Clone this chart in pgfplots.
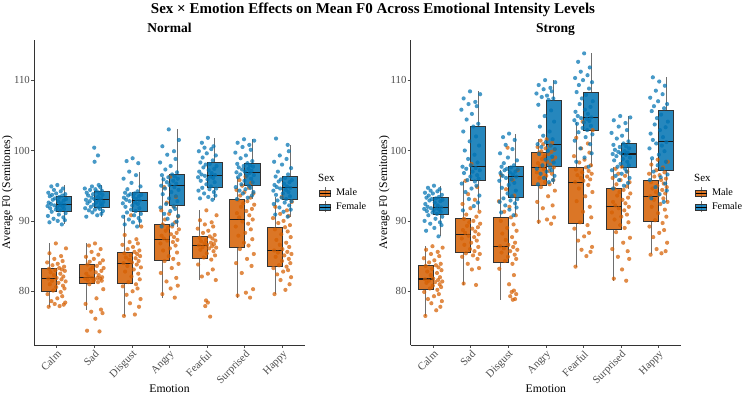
\documentclass[border=0pt]{standalone}
\usepackage{fontspec}
\setmainfont{Liberation Serif}
\usepackage{pgfplots}
\pgfplotsset{compat=1.18}
\usepgfplotslibrary{statistics}

\definecolor{maleC}{HTML}{D55E00}
\definecolor{femaleC}{HTML}{0072B2}
\definecolor{boxline}{HTML}{333333}
\definecolor{whisk}{HTML}{6E6E6E}
\definecolor{ticktext}{HTML}{4D4D4D}

\pgfplotsset{
  panel/.style={
    scale only axis, width=271pt, height=305pt,
    xmin=0.4, xmax=7.6, ymin=72.37, ymax=115.70,
    axis x line*=bottom, axis y line*=left,
    axis line style={draw=black!80, line width=0.6pt},
    tick align=outside, major tick length=3pt,
    tick style={draw=black!70, line width=0.6pt},
    xtick={1,...,7},
    xticklabels={Calm,Sad,Disgust,Angry,Fearful,Surprised,Happy},
    ytick={80,90,100,110},
    ticklabel style={font=\fontsize{10.8}{12}\selectfont, text=ticktext},
    xticklabel style={rotate=45, anchor=north east, inner sep=1pt},
    yticklabel style={inner sep=1pt},
    /pgf/number format/assume math mode=true,
    xlabel={Emotion}, ylabel={Average F0 (Semitones)},
    label style={font=\fontsize{11.7}{14}\selectfont},
    xlabel style={at={(axis description cs:0.5,-0.144)}, anchor=center},
    ylabel style={at={(axis description cs:-0.098,0.5)}, anchor=center},
    legend style={at={(axis description cs:1.052,0.518)}, anchor=north west,
      draw=none, fill=none, inner sep=0pt, row sep=2.5pt,
      font=\fontsize{10.2}{12}\selectfont,
      nodes={inner sep=1pt, text height=7pt, text depth=2pt},
      /tikz/every odd column/.append style={column sep=4pt}},
    legend cell align=left,
  },
  mbox/.style={forget plot,
    boxplot/draw direction=y,
    boxplot/box extend=0.4, boxplot/whisker extend=0,
    boxplot/every box/.style={draw=boxline, fill=maleC, fill opacity=0.85, line width=0.6pt},
    boxplot/every whisker/.style={draw=whisk, line width=0.7pt},
    boxplot/every median/.style={draw=black!90, line width=1.1pt}},
  fbox/.style={forget plot,
    boxplot/draw direction=y,
    boxplot/box extend=0.4, boxplot/whisker extend=0,
    boxplot/every box/.style={draw=boxline, fill=femaleC, fill opacity=0.85, line width=0.6pt},
    boxplot/every whisker/.style={draw=whisk, line width=0.7pt},
    boxplot/every median/.style={draw=black!90, line width=1.1pt}},
  mpt/.style={forget plot, only marks, mark=*, mark size=2.1pt,
    mark options={fill=maleC, fill opacity=0.72, draw opacity=0}},
  fpt/.style={forget plot, only marks, mark=*, mark size=2.1pt,
    mark options={fill=femaleC, fill opacity=0.72, draw opacity=0}},
  malekey/.style={legend image code/.code={%
    \draw[draw=whisk, line width=0.5pt] (5.5pt,-5.5pt) -- (5.5pt,5.5pt);
    \draw[draw=boxline, fill=maleC, fill opacity=0.85, line width=0.5pt] (0pt,-3.2pt) rectangle (11pt,3.2pt);
    \draw[black, line width=0.8pt] (0pt,0pt) -- (11pt,0pt);}},
  femalekey/.style={legend image code/.code={%
    \draw[draw=whisk, line width=0.5pt] (5.5pt,-5.5pt) -- (5.5pt,5.5pt);
    \draw[draw=boxline, fill=femaleC, fill opacity=0.85, line width=0.5pt] (0pt,-3.2pt) rectangle (11pt,3.2pt);
    \draw[black, line width=0.8pt] (0pt,0pt) -- (11pt,0pt);}},
}

% box statistics: lower whisker, Q1, median, Q3, upper whisker
\newcommand{\mb}[6]{\addplot[mbox, boxplot prepared={draw position=#1, lower whisker=#2, lower quartile=#3, median=#4, upper quartile=#5, upper whisker=#6}] coordinates {};}
\newcommand{\fb}[6]{\addplot[fbox, boxplot prepared={draw position=#1, lower whisker=#2, lower quartile=#3, median=#4, upper quartile=#5, upper whisker=#6}] coordinates {};}

\begin{document}
\begin{tikzpicture}
\useasboundingbox (0pt,0pt) rectangle (744pt,396pt);

% ---------------- Normal intensity ----------------
\begin{axis}[panel, at={(34pt,51pt)}, anchor=south west]
\mb{0.8}{77.8}{80.0}{81.85}{83.3}{86.8}
\fb{1.2}{89.5}{91.4}{92.3}{93.5}{95.1}
\mb{1.8}{77.4}{81.2}{82.0}{83.8}{86.8}
\fb{2.2}{90.6}{91.9}{93.0}{94.2}{95.1}
\mb{2.8}{76.5}{81.1}{84.0}{85.6}{90.8}
\fb{3.2}{89.2}{91.3}{92.9}{94.0}{97.0}
\mb{3.8}{79.1}{84.45}{87.3}{89.5}{96.3}
\fb{4.2}{89.2}{92.2}{95.0}{96.6}{103.0}
\mb{4.8}{81.6}{84.7}{86.5}{87.8}{91.5}
\fb{5.2}{93.0}{94.8}{96.5}{98.3}{101.8}
\mb{5.8}{79.1}{86.25}{90.2}{93.0}{96.3}
\fb{6.2}{93.1}{95.05}{96.9}{98.2}{101.6}
\mb{6.8}{79.6}{83.6}{85.8}{89.1}{93.4}
\fb{7.2}{90.6}{93.0}{94.7}{96.3}{100.8}

% Calm
\addplot[mpt] table[row sep=\\, x expr=\thisrow{d}+1, y=v] {d v\\
-0.21 77.8\\ 0.08 77.9\\ 0.19 78.1\\ -0.05 78.2\\ 0.23 78.4\\ -0.14 78.6\\ 0.02 79.0\\ 0.15 79.3\\ -0.24 79.6\\ 0.11 79.9\\
-0.09 80.1\\ 0.21 80.4\\ -0.01 80.6\\ 0.17 80.8\\ -0.18 81.0\\ 0.05 81.2\\ 0.24 81.4\\ -0.12 81.5\\ 0.13 81.7\\ -0.22 81.8\\
0.00 81.9\\ 0.18 82.1\\ -0.07 82.3\\ 0.10 82.5\\ -0.16 82.7\\ 0.22 82.9\\ -0.03 83.0\\ 0.14 83.1\\ -0.20 83.2\\ 0.07 83.3\\
0.20 83.5\\ -0.11 83.7\\ 0.03 83.9\\ -0.25 84.1\\ 0.16 84.3\\ -0.06 84.6\\ 0.12 85.0\\ -0.19 85.4\\ 0.25 86.1\\ -0.02 86.8\\};
\addplot[fpt] table[row sep=\\, x expr=\thisrow{d}+1, y=v] {d v\\
0.14 89.5\\ -0.19 89.8\\ 0.03 90.0\\ 0.22 90.1\\ -0.08 90.3\\ 0.18 90.5\\ -0.23 90.7\\ 0.06 90.9\\ 0.24 91.1\\ -0.13 91.3\\
0.10 91.5\\ -0.02 91.6\\ 0.20 91.7\\ -0.17 91.8\\ 0.01 91.9\\ 0.16 92.0\\ -0.24 92.1\\ 0.09 92.2\\ -0.06 92.2\\ 0.21 92.3\\
-0.15 92.4\\ 0.12 92.5\\ -0.21 92.6\\ 0.04 92.8\\ 0.19 92.9\\ -0.10 93.0\\ 0.25 93.1\\ -0.04 93.2\\ 0.07 93.4\\ -0.18 93.5\\
0.15 93.6\\ -0.12 93.7\\ 0.23 93.8\\ -0.01 93.9\\ -0.22 94.0\\ 0.11 94.2\\ -0.07 94.4\\ 0.17 94.6\\ -0.14 94.9\\ 0.02 95.1\\};
% Sad
\addplot[mpt] table[row sep=\\, x expr=\thisrow{d}+2, y=v] {d v\\
0.14 74.3\\ -0.19 74.4\\ 0.03 76.1\\ 0.22 76.9\\ -0.08 77.1\\ 0.18 77.4\\ -0.23 78.2\\ 0.06 79.0\\ 0.24 80.3\\ -0.13 81.0\\
0.10 81.3\\ -0.02 81.4\\ 0.20 81.5\\ -0.17 81.6\\ 0.01 81.7\\ 0.16 81.8\\ -0.24 81.8\\ 0.09 81.9\\ -0.06 81.9\\ 0.21 82.0\\
-0.15 82.1\\ 0.12 82.3\\ -0.21 82.5\\ 0.04 82.7\\ 0.19 82.9\\ -0.10 83.1\\ 0.25 83.3\\ -0.04 83.4\\ 0.07 83.6\\ -0.18 83.8\\
0.15 84.0\\ -0.12 84.2\\ 0.23 84.4\\ -0.01 84.6\\ -0.22 84.9\\ 0.11 85.2\\ -0.07 85.6\\ 0.17 86.0\\ -0.14 86.5\\ 0.02 86.8\\};
\addplot[fpt] table[row sep=\\, x expr=\thisrow{d}+2, y=v] {d v\\
-0.21 90.6\\ 0.08 90.8\\ 0.19 91.0\\ -0.05 91.2\\ 0.23 91.4\\ -0.14 91.5\\ 0.02 91.6\\ 0.15 91.7\\ -0.24 91.8\\ 0.11 91.9\\
-0.09 92.0\\ 0.21 92.2\\ -0.01 92.3\\ 0.17 92.4\\ -0.18 92.5\\ 0.05 92.6\\ 0.24 92.7\\ -0.12 92.8\\ 0.13 92.9\\ -0.22 93.0\\
0.00 93.1\\ 0.18 93.2\\ -0.07 93.3\\ 0.10 93.4\\ -0.16 93.6\\ 0.22 93.7\\ -0.03 93.8\\ 0.14 93.9\\ -0.20 94.0\\ 0.07 94.2\\
0.20 94.3\\ -0.11 94.4\\ 0.03 94.5\\ -0.25 94.6\\ 0.16 94.8\\ -0.06 94.9\\ 0.12 95.1\\ 0.01 98.4\\ 0.10 99.3\\ 0.00 100.4\\};
% Disgust
\addplot[mpt] table[row sep=\\, x expr=\thisrow{d}+3, y=v] {d v\\
-0.21 76.5\\ 0.08 76.7\\ 0.19 77.8\\ -0.05 78.3\\ 0.23 78.9\\ -0.14 79.5\\ 0.02 80.0\\ 0.15 80.4\\ -0.24 80.7\\ 0.11 81.0\\
-0.09 81.3\\ 0.21 81.7\\ -0.01 82.1\\ 0.17 82.5\\ -0.18 82.8\\ 0.05 83.1\\ 0.24 83.4\\ -0.12 83.6\\ 0.13 83.8\\ -0.22 84.0\\
0.00 84.1\\ 0.18 84.3\\ -0.07 84.5\\ 0.10 84.7\\ -0.16 84.8\\ 0.22 85.0\\ -0.03 85.1\\ 0.14 85.3\\ -0.20 85.4\\ 0.07 85.6\\
0.20 85.8\\ -0.11 86.0\\ 0.03 86.3\\ -0.25 86.6\\ 0.16 86.8\\ -0.06 87.0\\ 0.12 87.4\\ -0.19 88.0\\ 0.25 89.2\\ -0.02 90.8\\};
\addplot[fpt] table[row sep=\\, x expr=\thisrow{d}+3, y=v] {d v\\
0.14 89.2\\ -0.19 89.5\\ 0.03 89.8\\ 0.22 90.0\\ -0.08 90.2\\ 0.18 90.4\\ -0.23 90.6\\ 0.06 90.8\\ 0.24 91.0\\ -0.13 91.2\\
0.10 91.4\\ -0.02 91.6\\ 0.20 91.8\\ -0.17 92.0\\ 0.01 92.2\\ 0.16 92.4\\ -0.24 92.5\\ 0.09 92.6\\ -0.06 92.8\\ 0.21 92.9\\
-0.15 93.0\\ 0.12 93.1\\ -0.21 93.3\\ 0.04 93.4\\ 0.19 93.5\\ -0.10 93.6\\ 0.25 93.7\\ -0.04 93.8\\ 0.07 93.9\\ -0.18 94.0\\
0.15 94.2\\ -0.12 94.5\\ 0.23 94.9\\ -0.01 95.4\\ -0.22 96.0\\ 0.11 96.5\\ -0.07 97.0\\ 0.17 98.2\\ -0.14 98.5\\ 0.02 98.9\\};
% Angry
\addplot[mpt] table[row sep=\\, x expr=\thisrow{d}+4, y=v] {d v\\
0.14 79.1\\ -0.19 79.6\\ 0.03 80.4\\ 0.22 80.8\\ -0.08 81.4\\ 0.18 81.9\\ -0.23 82.6\\ 0.06 83.3\\ 0.24 83.9\\ -0.13 84.3\\
0.10 84.6\\ -0.02 85.0\\ 0.20 85.5\\ -0.17 85.8\\ 0.01 86.1\\ 0.16 86.5\\ -0.24 86.8\\ 0.09 87.0\\ -0.06 87.2\\ 0.21 87.3\\
-0.15 87.5\\ 0.12 87.7\\ -0.21 87.9\\ 0.04 88.1\\ 0.19 88.3\\ -0.10 88.6\\ 0.25 88.8\\ -0.04 89.0\\ 0.07 89.2\\ -0.18 89.5\\
0.15 89.8\\ -0.12 90.2\\ 0.23 90.6\\ -0.01 91.0\\ -0.22 91.5\\ 0.11 92.0\\ -0.07 92.6\\ 0.17 93.4\\ -0.14 94.8\\ 0.02 96.3\\};
\addplot[fpt] table[row sep=\\, x expr=\thisrow{d}+4, y=v] {d v\\
-0.21 89.2\\ 0.08 89.5\\ 0.19 89.9\\ -0.05 90.3\\ 0.23 90.7\\ -0.14 91.0\\ 0.02 91.4\\ 0.15 91.7\\ -0.24 91.9\\ 0.11 92.1\\
-0.09 92.4\\ 0.21 92.8\\ -0.01 93.2\\ 0.17 93.5\\ -0.18 93.8\\ 0.05 94.1\\ 0.24 94.4\\ -0.12 94.6\\ 0.13 94.8\\ -0.22 95.0\\
0.00 95.1\\ 0.18 95.3\\ -0.07 95.5\\ 0.10 95.7\\ -0.16 95.9\\ 0.22 96.0\\ -0.03 96.2\\ 0.14 96.3\\ -0.20 96.5\\ 0.07 96.6\\
0.20 96.9\\ -0.11 97.3\\ 0.03 97.8\\ -0.25 98.3\\ 0.16 98.8\\ -0.06 99.4\\ 0.12 99.9\\ -0.19 100.6\\ 0.25 101.5\\ -0.02 103.0\\};
% Fearful
\addplot[mpt] table[row sep=\\, x expr=\thisrow{d}+5, y=v] {d v\\
0.08 76.4\\ -0.05 77.9\\ 0.02 78.4\\ -0.03 78.7\\ 0.23 81.6\\ -0.14 82.1\\ 0.02 82.5\\ 0.15 83.1\\ -0.24 83.8\\ 0.11 84.5\\
-0.09 84.8\\ 0.21 85.1\\ -0.01 85.4\\ 0.17 85.7\\ -0.18 85.9\\ 0.05 86.1\\ 0.24 86.2\\ -0.12 86.3\\ 0.13 86.4\\ -0.22 86.5\\
0.00 86.6\\ 0.18 86.7\\ -0.07 86.8\\ 0.10 86.9\\ -0.16 87.1\\ 0.22 87.2\\ -0.03 87.3\\ 0.14 87.5\\ -0.20 87.6\\ 0.07 87.8\\
0.20 88.0\\ -0.11 88.3\\ 0.03 88.6\\ -0.25 88.9\\ 0.16 89.2\\ -0.06 89.5\\ 0.12 89.8\\ -0.19 90.1\\ 0.25 90.8\\ -0.02 91.5\\};
\addplot[fpt] table[row sep=\\, x expr=\thisrow{d}+5, y=v] {d v\\
0.14 93.0\\ -0.19 93.2\\ 0.03 93.4\\ 0.22 93.6\\ -0.08 93.9\\ 0.18 94.1\\ -0.23 94.3\\ 0.06 94.5\\ 0.24 94.6\\ -0.13 94.7\\
0.10 94.9\\ -0.02 95.2\\ 0.20 95.5\\ -0.17 95.7\\ 0.01 95.9\\ 0.16 96.1\\ -0.24 96.2\\ 0.09 96.3\\ -0.06 96.4\\ 0.21 96.5\\
-0.15 96.6\\ 0.12 96.8\\ -0.21 97.0\\ 0.04 97.2\\ 0.19 97.4\\ -0.10 97.6\\ 0.25 97.8\\ -0.04 98.0\\ 0.07 98.1\\ -0.18 98.3\\
0.15 98.6\\ -0.12 99.0\\ 0.23 99.3\\ -0.01 99.6\\ -0.22 99.9\\ 0.11 100.2\\ -0.07 100.4\\ 0.17 100.6\\ -0.14 101.1\\ 0.02 101.8\\};
% Surprised
\addplot[mpt] table[row sep=\\, x expr=\thisrow{d}+6, y=v] {d v\\
0.14 79.1\\ -0.19 79.4\\ 0.03 79.8\\ 0.22 80.3\\ -0.08 82.6\\ 0.18 83.6\\ -0.23 84.0\\ 0.06 84.6\\ 0.24 85.3\\ -0.13 86.0\\
0.10 86.5\\ -0.02 86.9\\ 0.20 87.4\\ -0.17 87.9\\ 0.01 88.3\\ 0.16 88.8\\ -0.24 89.2\\ 0.09 89.6\\ -0.06 89.9\\ 0.21 90.2\\
-0.15 90.5\\ 0.12 90.8\\ -0.21 91.1\\ 0.04 91.4\\ 0.19 91.7\\ -0.10 92.0\\ 0.25 92.3\\ -0.04 92.5\\ 0.07 92.8\\ -0.18 93.0\\
0.15 93.3\\ -0.12 93.6\\ 0.23 93.9\\ -0.01 94.1\\ -0.22 94.4\\ 0.11 94.7\\ -0.07 95.0\\ 0.17 95.4\\ -0.14 95.8\\ 0.02 96.3\\};
\addplot[fpt] table[row sep=\\, x expr=\thisrow{d}+6, y=v] {d v\\
-0.21 93.1\\ 0.08 93.3\\ 0.19 93.6\\ -0.05 93.9\\ 0.23 94.1\\ -0.14 94.3\\ 0.02 94.5\\ 0.15 94.7\\ -0.24 94.8\\ 0.11 95.0\\
-0.09 95.2\\ 0.21 95.5\\ -0.01 95.7\\ 0.17 96.0\\ -0.18 96.2\\ 0.05 96.4\\ 0.24 96.5\\ -0.12 96.6\\ 0.13 96.8\\ -0.22 96.9\\
0.00 97.0\\ 0.18 97.1\\ -0.07 97.3\\ 0.10 97.4\\ -0.16 97.6\\ 0.22 97.7\\ -0.03 97.8\\ 0.14 97.9\\ -0.20 98.1\\ 0.07 98.2\\
0.20 98.5\\ -0.11 98.9\\ 0.03 99.3\\ -0.25 99.7\\ 0.16 100.1\\ -0.06 100.5\\ 0.12 100.8\\ -0.19 101.1\\ 0.25 101.4\\ -0.02 101.6\\};
% Happy
\addplot[mpt] table[row sep=\\, x expr=\thisrow{d}+7, y=v] {d v\\
-0.21 79.6\\ 0.08 80.2\\ 0.19 81.0\\ -0.05 81.6\\ 0.23 82.0\\ -0.14 82.4\\ 0.02 82.8\\ 0.15 83.0\\ -0.24 83.3\\ 0.11 83.5\\
-0.09 83.7\\ 0.21 84.0\\ -0.01 84.3\\ 0.17 84.6\\ -0.18 84.9\\ 0.05 85.1\\ 0.24 85.3\\ -0.12 85.5\\ 0.13 85.6\\ -0.22 85.8\\
0.00 86.0\\ 0.18 86.3\\ -0.07 86.6\\ 0.10 86.9\\ -0.16 87.3\\ 0.22 87.7\\ -0.03 88.1\\ 0.14 88.5\\ -0.20 88.8\\ 0.07 89.1\\
0.20 89.4\\ -0.11 89.7\\ 0.03 90.0\\ -0.25 90.4\\ 0.16 90.7\\ -0.06 91.0\\ 0.12 91.5\\ -0.19 92.0\\ 0.25 92.7\\ -0.02 93.4\\};
\addplot[fpt] table[row sep=\\, x expr=\thisrow{d}+7, y=v] {d v\\
0.14 90.6\\ -0.19 90.9\\ 0.03 91.3\\ 0.22 91.6\\ -0.08 91.9\\ 0.18 92.2\\ -0.23 92.4\\ 0.06 92.6\\ 0.24 92.8\\ -0.13 92.9\\
0.10 93.1\\ -0.02 93.3\\ 0.20 93.5\\ -0.17 93.7\\ 0.01 93.9\\ 0.16 94.1\\ -0.24 94.3\\ 0.09 94.4\\ -0.06 94.6\\ 0.21 94.7\\
-0.15 94.8\\ 0.12 94.9\\ -0.21 95.1\\ 0.04 95.3\\ 0.19 95.5\\ -0.10 95.6\\ 0.25 95.8\\ -0.04 95.9\\ 0.07 96.1\\ -0.18 96.3\\
0.15 96.6\\ -0.12 97.0\\ 0.23 97.5\\ -0.01 98.0\\ -0.22 98.4\\ 0.11 98.8\\ -0.07 99.3\\ 0.17 99.9\\ 0.14 100.8\\ -0.17 101.7\\};

\addlegendimage{malekey}\addlegendentry{Male}
\addlegendimage{femalekey}\addlegendentry{Female}
\end{axis}

% ---------------- Strong intensity ----------------
\begin{axis}[panel, width=270.3pt, at={(410.7pt,51pt)}, anchor=south west]
\mb{0.8}{76.5}{80.3}{81.75}{83.7}{86.4}
\fb{1.2}{87.8}{90.9}{91.9}{93.35}{95.0}
\mb{1.8}{80.9}{85.5}{88.1}{90.3}{95.7}
\fb{2.2}{91.5}{95.7}{97.7}{103.4}{108.4}
\mb{2.8}{78.8}{84.1}{86.4}{90.5}{97.2}
\fb{3.2}{90.8}{93.3}{96.3}{97.7}{102.4}
\mb{3.8}{89.6}{95.0}{97.6}{99.7}{101.6}
\fb{4.2}{95.2}{97.7}{100.9}{107.2}{110.0}
\mb{4.8}{83.5}{89.6}{95.5}{97.6}{104.1}
\fb{5.2}{97.7}{102.8}{104.7}{108.3}{113.8}
\mb{5.8}{81.5}{88.8}{92.0}{94.6}{97.7}
\fb{6.2}{94.6}{97.6}{99.5}{101.0}{104.9}
\mb{6.8}{85.25}{89.9}{93.5}{95.8}{98.75}
\fb{7.2}{92.7}{97.2}{101.25}{105.7}{110.4}

% Calm
\addplot[mpt] table[row sep=\\, x expr=\thisrow{d}+1, y=v] {d v\\
-0.21 76.5\\ 0.08 77.3\\ 0.19 77.8\\ -0.05 78.3\\ 0.23 78.6\\ -0.14 78.9\\ 0.02 79.3\\ 0.15 79.6\\ -0.24 79.9\\ 0.11 80.2\\
-0.09 80.4\\ 0.21 80.6\\ -0.01 80.8\\ 0.17 81.0\\ -0.18 81.2\\ 0.05 81.3\\ 0.24 81.4\\ -0.12 81.5\\ 0.13 81.6\\ -0.22 81.7\\
0.00 81.8\\ 0.18 82.0\\ -0.07 82.3\\ 0.10 82.6\\ -0.16 82.8\\ 0.22 83.0\\ -0.03 83.2\\ 0.14 83.4\\ -0.20 83.6\\ 0.07 83.7\\
0.20 83.9\\ -0.11 84.1\\ 0.03 84.4\\ -0.25 84.7\\ 0.16 85.0\\ -0.06 85.3\\ 0.12 85.6\\ -0.19 85.9\\ 0.25 86.2\\ -0.02 86.4\\};
\addplot[fpt] table[row sep=\\, x expr=\thisrow{d}+1, y=v] {d v\\
0.14 87.8\\ -0.19 88.6\\ 0.03 89.0\\ 0.22 89.4\\ -0.08 89.6\\ 0.18 89.8\\ -0.23 90.0\\ 0.06 90.3\\ 0.24 90.6\\ -0.13 90.8\\
0.10 91.0\\ -0.02 91.2\\ 0.20 91.3\\ -0.17 91.4\\ 0.01 91.5\\ 0.16 91.6\\ -0.24 91.7\\ 0.09 91.8\\ -0.06 91.8\\ 0.21 91.9\\
-0.15 92.0\\ 0.12 92.2\\ -0.21 92.4\\ 0.04 92.6\\ 0.19 92.8\\ -0.10 92.9\\ 0.25 93.0\\ -0.04 93.1\\ 0.07 93.2\\ -0.18 93.3\\
0.15 93.4\\ -0.12 93.6\\ 0.23 93.7\\ -0.01 93.9\\ -0.22 94.0\\ 0.11 94.2\\ -0.07 94.3\\ 0.17 94.5\\ -0.14 94.7\\ 0.02 95.0\\};
% Sad
\addplot[mpt] table[row sep=\\, x expr=\thisrow{d}+2, y=v] {d v\\
0.14 80.9\\ -0.19 81.1\\ 0.03 83.1\\ 0.22 83.3\\ -0.08 83.9\\ 0.18 84.6\\ -0.23 84.9\\ 0.06 85.1\\ 0.24 85.3\\ -0.13 85.4\\
0.10 85.7\\ -0.02 86.0\\ 0.20 86.3\\ -0.17 86.6\\ 0.01 86.9\\ 0.16 87.2\\ -0.24 87.5\\ 0.09 87.7\\ -0.06 87.9\\ 0.21 88.1\\
-0.15 88.3\\ 0.12 88.5\\ -0.21 88.7\\ 0.04 88.9\\ 0.19 89.1\\ -0.10 89.3\\ 0.25 89.6\\ -0.04 89.8\\ 0.07 90.0\\ -0.18 90.3\\
0.15 90.6\\ -0.12 90.9\\ 0.23 91.3\\ -0.01 91.8\\ -0.22 92.4\\ 0.11 93.0\\ -0.07 93.8\\ 0.17 94.8\\ -0.14 95.7\\ 0.02 98.1\\};
\addplot[fpt] table[row sep=\\, x expr=\thisrow{d}+2, y=v] {d v\\
-0.21 91.5\\ 0.08 92.1\\ 0.19 92.6\\ -0.05 93.1\\ 0.23 93.6\\ -0.14 94.1\\ 0.02 94.6\\ 0.15 95.0\\ -0.24 95.3\\ 0.11 95.6\\
-0.09 95.8\\ 0.21 96.0\\ -0.01 96.3\\ 0.17 96.5\\ -0.18 96.8\\ 0.05 97.0\\ 0.24 97.2\\ -0.12 97.4\\ 0.13 97.5\\ -0.22 97.7\\
0.00 97.9\\ 0.18 98.3\\ -0.07 98.8\\ 0.10 99.4\\ -0.16 100.0\\ 0.22 100.7\\ -0.03 101.3\\ 0.14 102.0\\ -0.20 102.7\\ 0.07 103.4\\
0.20 103.8\\ -0.11 104.4\\ 0.03 105.2\\ -0.25 105.8\\ 0.16 106.3\\ -0.06 106.6\\ 0.12 106.9\\ -0.19 107.4\\ 0.25 108.0\\ -0.02 108.4\\};
% Disgust
\addplot[mpt] table[row sep=\\, x expr=\thisrow{d}+3, y=v] {d v\\
0.12 78.8\\ 0.18 78.9\\ 0.05 79.3\\ 0.21 79.6\\ 0.09 79.9\\ 0.15 80.1\\ 0.02 81.0\\ 0.15 82.3\\ -0.24 83.2\\ 0.11 83.9\\
-0.09 84.3\\ 0.21 84.6\\ -0.01 84.9\\ 0.17 85.2\\ -0.18 85.5\\ 0.05 85.7\\ 0.24 85.9\\ -0.12 86.1\\ 0.13 86.3\\ -0.22 86.4\\
0.00 86.6\\ 0.18 86.9\\ -0.07 87.3\\ 0.10 87.7\\ -0.16 88.2\\ 0.22 88.6\\ -0.03 89.0\\ 0.14 89.5\\ -0.20 90.0\\ 0.07 90.5\\
0.20 90.8\\ -0.11 91.3\\ 0.03 92.0\\ -0.25 92.8\\ 0.16 93.6\\ -0.06 94.5\\ 0.12 95.8\\ -0.19 96.5\\ 0.25 97.2\\ -0.02 100.4\\};
\addplot[fpt] table[row sep=\\, x expr=\thisrow{d}+3, y=v] {d v\\
0.14 90.8\\ -0.19 91.2\\ 0.03 91.6\\ 0.22 91.9\\ -0.08 92.2\\ 0.18 92.5\\ -0.23 92.7\\ 0.06 92.9\\ 0.24 93.1\\ -0.13 93.2\\
0.10 93.5\\ -0.02 93.9\\ 0.20 94.3\\ -0.17 94.7\\ 0.01 95.1\\ 0.16 95.4\\ -0.24 95.7\\ 0.09 95.9\\ -0.06 96.1\\ 0.21 96.3\\
-0.15 96.4\\ 0.12 96.6\\ -0.21 96.8\\ 0.04 96.9\\ 0.19 97.0\\ -0.10 97.2\\ 0.25 97.3\\ -0.04 97.4\\ 0.07 97.6\\ -0.18 97.7\\
0.15 97.9\\ -0.12 98.2\\ 0.23 98.6\\ -0.01 99.0\\ -0.22 99.6\\ 0.11 100.2\\ -0.07 100.8\\ 0.17 101.5\\ -0.14 101.9\\ 0.02 102.4\\};
% Angry
\addplot[mpt] table[row sep=\\, x expr=\thisrow{d}+4, y=v] {d v\\
0.14 89.6\\ -0.19 89.9\\ 0.03 90.2\\ 0.22 90.5\\ -0.08 91.8\\ 0.18 92.2\\ -0.23 92.7\\ 0.06 93.5\\ 0.24 94.3\\ -0.13 94.8\\
0.10 95.2\\ -0.02 95.5\\ 0.20 95.8\\ -0.17 96.1\\ 0.01 96.4\\ 0.16 96.7\\ -0.24 96.9\\ 0.09 97.1\\ -0.06 97.4\\ 0.21 97.6\\
-0.15 97.8\\ 0.12 98.0\\ -0.21 98.2\\ 0.04 98.4\\ 0.19 98.6\\ -0.10 98.8\\ 0.25 99.0\\ -0.04 99.2\\ 0.07 99.5\\ -0.18 99.7\\
0.15 99.8\\ -0.12 99.9\\ 0.23 100.1\\ -0.01 100.3\\ -0.22 100.5\\ 0.11 100.7\\ -0.07 100.9\\ 0.17 101.1\\ -0.14 101.4\\ 0.02 101.6\\};
\addplot[fpt] table[row sep=\\, x expr=\thisrow{d}+4, y=v] {d v\\
-0.21 95.2\\ 0.08 95.5\\ 0.19 95.8\\ -0.05 96.1\\ 0.23 96.4\\ -0.14 96.7\\ 0.02 97.0\\ 0.15 97.2\\ -0.24 97.4\\ 0.11 97.6\\
-0.09 97.9\\ 0.21 98.3\\ -0.01 98.7\\ 0.17 99.1\\ -0.18 99.5\\ 0.05 99.9\\ 0.24 100.2\\ -0.12 100.5\\ 0.13 100.7\\ -0.22 100.9\\
0.00 101.2\\ 0.18 101.6\\ -0.07 102.1\\ 0.10 102.7\\ -0.16 103.4\\ 0.22 104.1\\ -0.03 104.9\\ 0.14 105.7\\ -0.20 106.5\\ 0.07 107.2\\
0.20 107.4\\ -0.11 107.6\\ 0.03 107.8\\ -0.25 108.1\\ 0.16 108.4\\ -0.06 108.7\\ 0.12 108.9\\ -0.19 109.3\\ 0.25 109.7\\ -0.02 110.0\\};
% Fearful
\addplot[mpt] table[row sep=\\, x expr=\thisrow{d}+5, y=v] {d v\\
-0.21 83.5\\ 0.08 85.0\\ 0.19 85.6\\ -0.05 85.9\\ 0.23 86.3\\ -0.14 87.2\\ 0.02 87.8\\ 0.15 88.3\\ -0.24 88.9\\ 0.11 89.4\\
-0.09 89.8\\ 0.21 90.5\\ -0.01 91.3\\ 0.17 92.0\\ -0.18 92.8\\ 0.05 93.5\\ 0.24 94.1\\ -0.12 94.6\\ 0.13 95.1\\ -0.22 95.5\\
0.00 95.7\\ 0.18 95.9\\ -0.07 96.1\\ 0.10 96.3\\ -0.16 96.5\\ 0.22 96.7\\ -0.03 96.9\\ 0.14 97.1\\ -0.20 97.3\\ 0.07 97.6\\
0.20 97.9\\ -0.11 98.3\\ 0.03 98.7\\ -0.25 99.2\\ 0.16 99.7\\ -0.06 100.3\\ 0.12 101.0\\ -0.19 101.8\\ 0.25 102.9\\ -0.02 104.1\\};
\addplot[fpt] table[row sep=\\, x expr=\thisrow{d}+5, y=v] {d v\\
0.14 97.7\\ -0.19 98.4\\ 0.03 99.0\\ 0.22 99.6\\ -0.08 100.3\\ 0.18 100.9\\ -0.23 101.4\\ 0.06 101.9\\ 0.24 102.3\\ -0.13 102.6\\
0.10 102.9\\ -0.02 103.2\\ 0.20 103.5\\ -0.17 103.8\\ 0.01 104.0\\ 0.16 104.2\\ -0.24 104.3\\ 0.09 104.5\\ -0.06 104.6\\ 0.21 104.7\\
-0.15 104.9\\ 0.12 105.2\\ -0.21 105.5\\ 0.04 105.8\\ 0.19 106.2\\ -0.10 106.6\\ 0.25 107.0\\ -0.04 107.4\\ 0.07 107.9\\ -0.18 108.3\\
0.15 108.8\\ -0.12 109.3\\ 0.23 109.7\\ -0.01 110.0\\ -0.22 110.3\\ 0.11 110.7\\ -0.07 111.2\\ 0.17 111.8\\ -0.14 112.6\\ 0.02 113.8\\};
% Surprised
\addplot[mpt] table[row sep=\\, x expr=\thisrow{d}+6, y=v] {d v\\
0.14 81.5\\ -0.19 81.8\\ 0.03 83.1\\ 0.22 84.6\\ -0.08 84.9\\ 0.18 85.7\\ -0.23 86.0\\ 0.06 86.9\\ 0.24 87.6\\ -0.13 88.4\\
0.10 89.0\\ -0.02 89.4\\ 0.20 89.8\\ -0.17 90.2\\ 0.01 90.6\\ 0.16 90.9\\ -0.24 91.2\\ 0.09 91.5\\ -0.06 91.8\\ 0.21 92.0\\
-0.15 92.2\\ 0.12 92.5\\ -0.21 92.7\\ 0.04 93.0\\ 0.19 93.3\\ -0.10 93.6\\ 0.25 93.9\\ -0.04 94.1\\ 0.07 94.4\\ -0.18 94.6\\
0.15 94.9\\ -0.12 95.2\\ 0.23 95.5\\ -0.01 95.8\\ -0.22 96.1\\ 0.11 96.4\\ -0.07 96.7\\ 0.17 97.0\\ -0.14 97.4\\ 0.02 97.7\\};
\addplot[fpt] table[row sep=\\, x expr=\thisrow{d}+6, y=v] {d v\\
-0.21 94.6\\ 0.08 95.0\\ 0.19 95.4\\ -0.05 95.8\\ 0.23 96.1\\ -0.14 96.4\\ 0.02 96.7\\ 0.15 97.0\\ -0.24 97.2\\ 0.11 97.4\\
-0.09 97.7\\ 0.21 97.9\\ -0.01 98.1\\ 0.17 98.4\\ -0.18 98.6\\ 0.05 98.8\\ 0.24 99.0\\ -0.12 99.2\\ 0.13 99.4\\ -0.22 99.5\\
0.00 99.6\\ 0.18 99.7\\ -0.07 99.8\\ 0.10 99.9\\ -0.16 100.1\\ 0.22 100.3\\ -0.03 100.5\\ 0.14 100.6\\ -0.20 100.8\\ 0.07 101.0\\
0.20 101.3\\ -0.11 101.7\\ 0.03 102.1\\ -0.25 102.5\\ 0.16 102.9\\ -0.06 103.4\\ 0.12 103.9\\ -0.19 104.3\\ 0.25 104.7\\ -0.02 104.9\\};
% Happy
\addplot[mpt] table[row sep=\\, x expr=\thisrow{d}+7, y=v] {d v\\
-0.21 85.2\\ 0.08 85.4\\ 0.19 85.7\\ -0.05 86.0\\ 0.23 86.9\\ -0.14 87.7\\ 0.02 88.3\\ 0.15 88.7\\ -0.24 89.2\\ 0.11 89.7\\
-0.09 90.1\\ 0.21 90.6\\ -0.01 91.1\\ 0.17 91.6\\ -0.18 92.0\\ 0.05 92.4\\ 0.24 92.7\\ -0.12 93.0\\ 0.13 93.2\\ -0.22 93.5\\
0.00 93.7\\ 0.18 93.9\\ -0.07 94.1\\ 0.10 94.4\\ -0.16 94.6\\ 0.22 94.8\\ -0.03 95.0\\ 0.14 95.3\\ -0.20 95.5\\ 0.07 95.8\\
0.20 96.0\\ -0.11 96.3\\ 0.03 96.5\\ -0.25 96.7\\ 0.16 96.9\\ -0.06 97.2\\ 0.12 97.6\\ -0.19 98.0\\ 0.25 98.4\\ -0.02 98.7\\};
\addplot[fpt] table[row sep=\\, x expr=\thisrow{d}+7, y=v] {d v\\
0.14 92.7\\ -0.19 93.2\\ 0.03 93.8\\ 0.22 94.3\\ -0.08 94.8\\ 0.18 95.3\\ -0.23 95.8\\ 0.06 96.2\\ 0.24 96.6\\ -0.13 97.0\\
0.10 97.4\\ -0.02 97.9\\ 0.20 98.4\\ -0.17 98.9\\ 0.01 99.4\\ 0.16 99.9\\ -0.24 100.3\\ 0.09 100.7\\ -0.06 101.0\\ 0.21 101.2\\
-0.15 101.5\\ 0.12 101.9\\ -0.21 102.4\\ 0.04 102.9\\ 0.19 103.3\\ -0.10 103.7\\ 0.25 104.1\\ -0.04 104.6\\ 0.07 105.1\\ -0.18 105.6\\
0.15 106.0\\ -0.12 106.3\\ 0.23 106.6\\ -0.01 107.0\\ -0.22 107.5\\ 0.11 108.0\\ -0.07 108.5\\ 0.17 109.2\\ 0.02 109.8\\ -0.15 110.4\\};

\addlegendimage{malekey}\addlegendentry{Male}
\addlegendimage{femalekey}\addlegendentry{Female}
\end{axis}

% titles and legend headings
\node[anchor=base, inner sep=0pt, font=\fontsize{15}{18}\selectfont\bfseries] at (373pt,382.5pt)
  {Sex × Emotion Effects on Mean F0 Across Emotional Intensity Levels};
\node[anchor=base, inner sep=0pt, font=\fontsize{13.5}{16}\selectfont\bfseries] at (169.5pt,363pt) {Normal};
\node[anchor=base, inner sep=0pt, font=\fontsize{13.5}{16}\selectfont\bfseries] at (555.5pt,363pt) {Strong};
\node[anchor=base west, inner sep=0pt, font=\fontsize{11}{13}\selectfont] at (318pt,214pt) {Sex};
\node[anchor=base west, inner sep=0pt, font=\fontsize{11}{13}\selectfont] at (694pt,214pt) {Sex};
\end{tikzpicture}
\end{document}
